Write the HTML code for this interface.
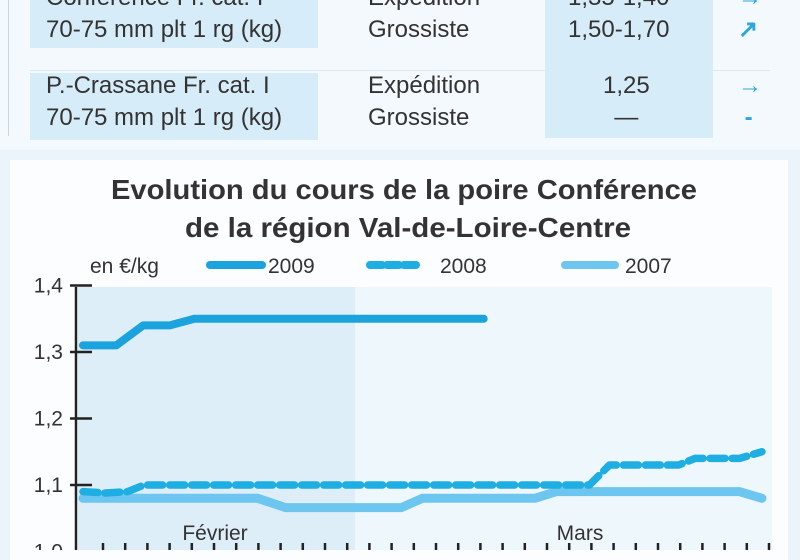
<!DOCTYPE html>
<html><head><meta charset="utf-8"><style>
body{margin:0;width:800px;height:550px;overflow:hidden;background:#eaf4fa;font-family:"Liberation Sans",sans-serif;color:#333}
.t{position:absolute;font-size:24px;letter-spacing:0px;white-space:nowrap;line-height:32px}
</style></head><body>
<div style="position:absolute;left:0;top:0;width:800px;height:150px;background:#f3f9fd">
<div style="position:absolute;left:8px;top:0;width:1px;height:136px;background:#c8d6df"></div>
<div style="position:absolute;left:30px;top:70px;width:740px;height:1px;background:#dde8ef"></div>
<div style="position:absolute;left:30px;top:0;width:288px;height:48px;background:#d6ecf8"></div>
<div style="position:absolute;left:30px;top:73px;width:288px;height:67px;background:#d6ecf8"></div>
<div style="position:absolute;left:545px;top:0;width:168px;height:138px;background:#d6ecf8"></div>
<div class="t" style="left:46px;top:-18px">Conférence Fr. cat. I<br>70-75 mm plt 1 rg (kg)</div>
<div class="t" style="left:368px;top:-18px">Expédition<br>Grossiste</div>
<div class="t" style="left:568px;top:-18px">1,35-1,40<br>1,50-1,70</div>
<div class="t" style="left:738px;top:-18px;color:#2aa7df;font-weight:bold">→<br>↗</div>
<div class="t" style="left:46px;top:70px">P.-Crassane Fr. cat. I<br>70-75 mm plt 1 rg (kg)</div>
<div class="t" style="left:368px;top:70px">Expédition<br>Grossiste</div>
<div class="t" style="left:603px;top:70px;text-align:center">1,25<br>—</div>
<div class="t" style="left:738px;top:70px;color:#2aa7df;font-weight:bold">→<br>&nbsp;-</div>
</div>
<div style="position:absolute;left:10px;top:160px;width:778px;height:400px;background:#fbfdfe"></div>
<svg width="800" height="550" style="position:absolute;left:0;top:0" font-family="Liberation Sans, sans-serif">
<text x="404" y="199" text-anchor="middle" font-size="28" font-weight="bold" fill="#333" textLength="586" lengthAdjust="spacingAndGlyphs">Evolution du cours de la poire Conférence</text>
<text x="408" y="237" text-anchor="middle" font-size="28" font-weight="bold" fill="#333" textLength="446" lengthAdjust="spacingAndGlyphs">de la région Val-de-Loire-Centre</text>
<text x="90" y="273" font-size="21" fill="#333">en €/kg</text>
<g id="legend"></g>
<rect x="78" y="287" width="694" height="263" fill="#eef7fc"/>
<rect x="78" y="287" width="277" height="263" fill="#ddeef9"/>
<g id="yaxis"></g><g id="xaxis"></g><g id="series"></g>
<text x="215" y="540" text-anchor="middle" font-size="21" fill="#333">Février</text>
<text x="580" y="540" text-anchor="middle" font-size="21" fill="#333">Mars</text>
</svg>
<script>
const yTicks=[1.0,1.1,1.2,1.3,1.4];
const yTickLabels=["1,0","1,1","1,2","1,3","1,4"];
const x2009=[0,3,5.4,7.8,10,36];
const v2009=[1.31,1.31,1.34,1.34,1.35,1.35];
const x2008=[0,2,4,5.5,45.5,47.3,53.5,55,59,61];
const v2008=[1.09,1.088,1.09,1.10,1.10,1.13,1.13,1.14,1.14,1.15];
const x2007=[0,15.7,18.2,28.6,30.5,40.6,42.5,59,61];
const v2007=[1.08,1.08,1.066,1.066,1.08,1.08,1.09,1.09,1.08];
const NS="http://www.w3.org/2000/svg";
const X=i=>83+i*11.13, Y=v=>352-(v-1.3)*665;
function mk(tag,attrs,parent){const e=document.createElementNS(NS,tag);for(const k in attrs)e.setAttribute(k,attrs[k]);parent.appendChild(e);return e;}
const ya=document.getElementById('yaxis');
let ax=mk('line',{x1:76,x2:76,y1:287,y2:550,stroke:'#222','stroke-width':2.5},ya);


yTicks.forEach((v,i)=>{
 const t=mk('line',{x1:70,x2:92,y1:Y(v),y2:Y(v),stroke:'#222','stroke-width':2.5},ya);
 
 
 const l=mk('text',{x:63,y:Y(v)+7,'text-anchor':'end','font-size':21,fill:'#333'},ya);
 l.textContent=yTickLabels[i];
 
 
});
const xa=document.getElementById('xaxis');
for(let k=0;k<31;k++){
 const t=mk('line',{x1:103+k*22.2,x2:103+k*22.2,y1:543,y2:550,stroke:'#222','stroke-width':2.5},xa);
 
 
}
const sg=document.getElementById('series');
function line(xs,vs,color,w,dash,name){
 const p=mk('polyline',{points:xs.map((x,i)=>X(x)+','+Y(vs[i])).join(' '),fill:'none',stroke:color,'stroke-width':w,'stroke-linejoin':'round','stroke-linecap':'round'},sg);
 if(dash)p.setAttribute('stroke-dasharray',dash);
 
 
}
line(x2007,v2007,'#6cc6ef',9,null,'line-2007');
line(x2008,v2008,'#1eaee2',7.5,'15 7','line-2008');
line(x2009,v2009,'#1aa3dc',8,null,'line-2009');
const lg=document.getElementById('legend');
[[210,262,'#1aa3dc',null,'2009',268],[370,420,'#1eaee2','12 5','2008',440],[565,615,'#6cc6ef',null,'2007',625]].forEach(d=>{
 const s=mk('line',{x1:d[0],x2:d[1],y1:265,y2:265,stroke:d[2],'stroke-width':8,'stroke-linecap':'round'},lg);
 if(d[3])s.setAttribute('stroke-dasharray',d[3]);
 
 
 const t=mk('text',{x:d[5],y:273,'font-size':21,fill:'#333'},lg);
 t.textContent=d[4];
 
 
});
</script>
</body></html>
